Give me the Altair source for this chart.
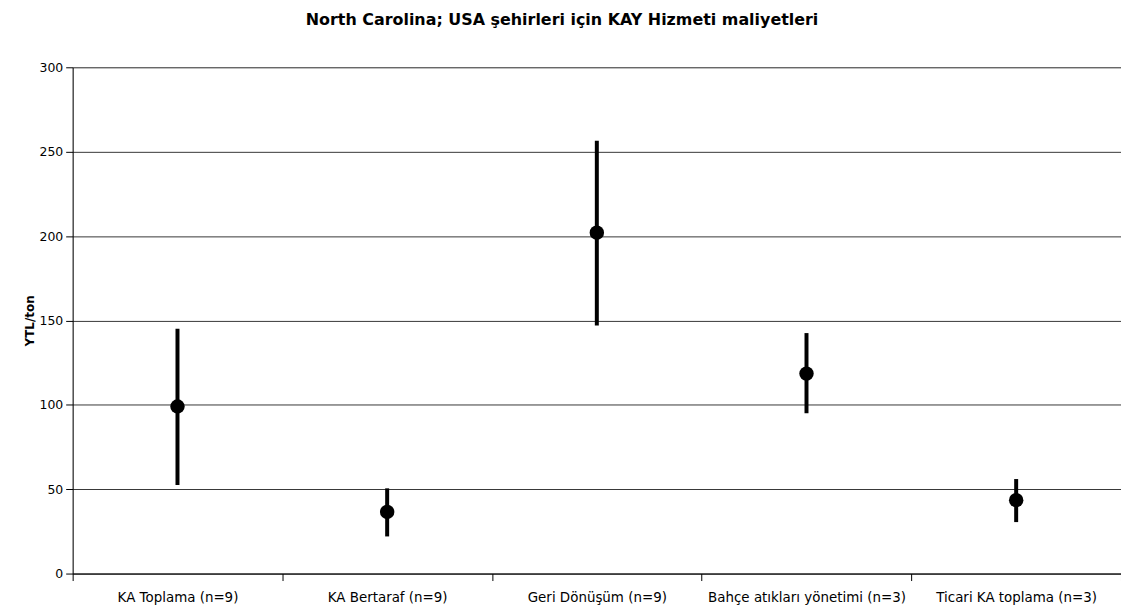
import altair as alt
import pandas as pd

categories = ["KA Toplama (n=9)", "KA Bertaraf (n=9)", "Geri Dönüşüm (n=9)",
              "Bahçe atıkları yönetimi (n=3)", "Ticari KA toplama (n=3)"]
means = [99, 36.5, 202, 118.5, 43.5]
lows = [52.5, 22, 147, 95, 30.5]
highs = [145, 50.5, 256.5, 142.5, 56]

df = pd.DataFrame({"cat": categories, "mean": means, "low": lows, "high": highs})

FONT = "DejaVu Sans"

x_enc = alt.X("cat:N", sort=categories, title=None,
              scale=alt.Scale(paddingInner=0, paddingOuter=0),
              axis=alt.Axis(tickBand="extent", labelAngle=0, labelFont=FONT,
                            labelFontSize=13.5, labelColor="black", tickColor="black",
                            domainColor="black", tickSize=7, labelPadding=10,
                            labelLimit=400, grid=False))
y_scale = alt.Scale(domain=[0, 300], nice=False)
y_axis = alt.Axis(values=[0, 50, 100, 150, 200, 250, 300], title="YTL/ton",
                  titleFont=FONT, titleFontSize=12, titleFontWeight="bold",
                  titleColor="black", titlePadding=3,
                  labelFont=FONT, labelFontSize=12.5, labelColor="black",
                  tickColor="black", domainColor="black", tickSize=7,
                  labelPadding=3, gridColor="#222222", gridWidth=1, gridOpacity=0.9)

rules = alt.Chart(df).mark_rule(color="black", strokeWidth=4).encode(
    x=x_enc,
    y=alt.Y("low:Q", scale=y_scale, axis=y_axis),
    y2="high:Q",
)
points = alt.Chart(df).mark_circle(color="black", size=210, opacity=1).encode(
    x=alt.X("cat:N", sort=categories),
    y=alt.Y("mean:Q", scale=y_scale),
)

chart = (rules + points).properties(
    width=1054, height=509,
    title=alt.TitleParams("North Carolina; USA şehirleri için KAY Hizmeti maliyetleri",
                          font=FONT, fontSize=16, fontWeight="bold", color="black",
                          anchor="middle", offset=34, dx=-35),
    autosize=alt.AutoSizeParams(type="none"),
    padding={"left": 65, "top": 58, "right": 0, "bottom": 30},
).configure_view(stroke=None).configure(background="white")

chart.save("out.html", embed_options={"renderer": "svg", "actions": False})
